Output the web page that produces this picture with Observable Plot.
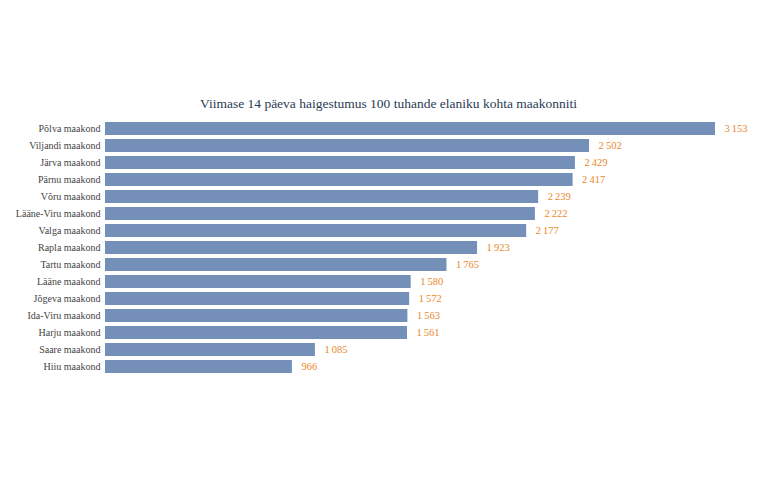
<!DOCTYPE html>
<html>
<head>
<meta charset="utf-8">
<script src="https://cdn.jsdelivr.net/npm/d3@7"></script>
<script src="https://cdn.jsdelivr.net/npm/@observablehq/plot@0.6"></script>
<style>
  html, body { margin: 0; padding: 0; background: #fff; }
  #chart svg { display: block; }
</style>
</head>
<body>
<div id="chart"></div>
<script>
const title = ["Viimase 14 päeva haigestumus 100 tuhande elaniku kohta maakonniti"];
const counties = ["Põlva maakond", "Viljandi maakond", "Järva maakond", "Pärnu maakond", "Võru maakond", "Lääne-Viru maakond", "Valga maakond", "Rapla maakond", "Tartu maakond", "Lääne maakond", "Jõgeva maakond", "Ida-Viru maakond", "Harju maakond", "Saare maakond", "Hiiu maakond"];
const values = [3153, 2502, 2429, 2417, 2239, 2222, 2177, 1923, 1765, 1580, 1572, 1563, 1561, 1085, 966];

const data = counties.map((c, i) => ({county: c, value: values[i]}));
const fmt = d3.formatLocale({decimal: ",", thousands: "\u2009", grouping: [3], currency: ["", ""]}).format(",d");

const chart = Plot.plot({
  width: 768,
  height: 500,
  marginLeft: 105,
  marginRight: 53,
  marginTop: 116,
  marginBottom: 122,
  style: {fontFamily: "'Liberation Serif', 'Times New Roman', serif", fontSize: "10px", color: "#444", background: "#fff"},
  x: {domain: [0, 3153], axis: null},
  y: {domain: counties, padding: 0.25, label: null, tickSize: 0, tickPadding: 5},
  marks: [
    Plot.barX(data, {x: "value", y: "county", fill: "#7590b8"}),
    Plot.text(data, {x: "value", y: "county", text: d => fmt(d.value), textAnchor: "start", dx: 9, fill: "#e8892b", fontSize: 10.5}),
    Plot.text(title, {frameAnchor: "top", text: d => d, lineAnchor: "bottom", dy: -9, fontSize: 13.5, fill: "#2c3b55", dx: -22}),
    Plot.axisY({tickSize: 0, tickPadding: 5, label: null, fill: "#444", fontSize: 10})
  ]
});
document.getElementById("chart").append(chart);
</script>
</body>
</html>
